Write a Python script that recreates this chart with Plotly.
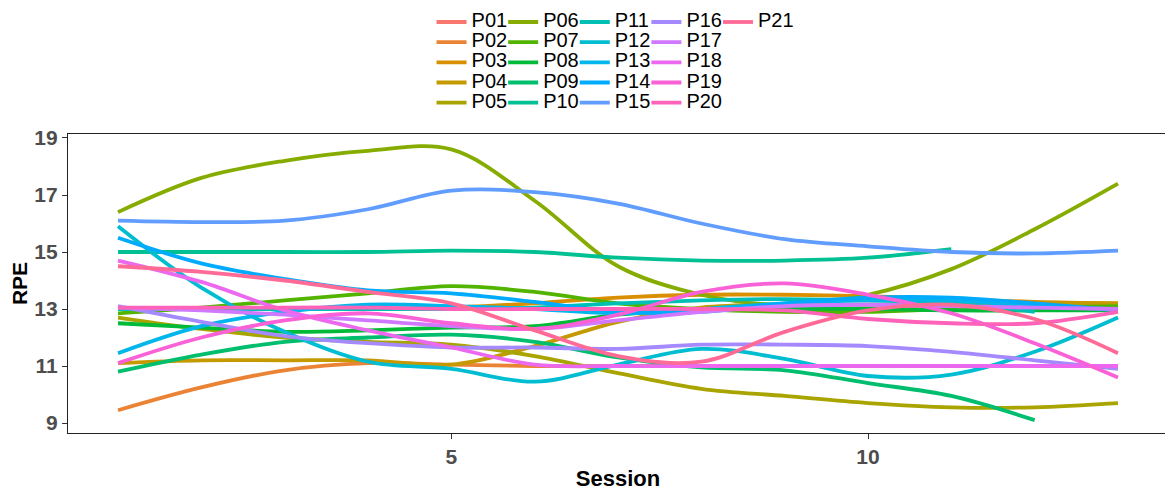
import math
import plotly.graph_objects as go

sessions = list(range(1, 14))
participants = ["P%02d" % i for i in range(1, 22)]

p01 = [13.0, 13.0, 13.0, 13.0, 13.0, 13.0, 13.0, 13.0, 13.0, 13.0, 13.0, 13.0, 13.0]
p02 = [9.45, 10.25, 10.85, 11.1, 11.05, 11.0, 11.0, 11.0, 11.0, 11.0, 11.0, 11.0, 11.0]
p03 = [13.0, 13.0, 13.0, 13.0, 13.05, 13.2, 13.4, 13.5, 13.5, 13.45, 13.35, 13.25, 13.2]
p04 = [11.1, 11.2, 11.2, 11.2, 11.05, 11.7, 12.55, 13.05, 13.15, 13.15, 13.15, 13.2, 13.2]
p05 = [12.7, 12.3, 12.0, 11.85, 11.75, 11.35, 10.75, 10.2, 9.95, 9.7, 9.55, 9.55, 9.7]
p06 = [16.4, 17.6, 18.2, 18.55, 18.6, 16.8, 14.5, 13.5, 13.15, 13.5, 14.4, 15.8, 17.4]
p07 = [12.85, 13.05, 13.3, 13.55, 13.8, 13.6, 13.2, 13.0, 12.9, 12.9, 13.0, 13.05, 13.1]
p08 = [12.5, 12.35, 12.2, 12.25, 12.35, 12.4, 12.8, 13.0, 13.0, 13.0, 12.95, 12.95, 12.95]
p09 = [10.8, 11.4, 11.85, 12.0, 12.1, 11.85, 11.3, 10.95, 10.85, 10.4, 9.95, 9.1]
p10 = [15.0, 15.0, 15.0, 15.0, 15.05, 15.0, 14.8, 14.7, 14.7, 14.8, 15.1]
p11 = [13.0, 13.0, 13.0, 13.0, 13.0, 13.05, 13.2, 13.3, 13.35, 13.3, 13.2, 12.9]
p12 = [15.9, 13.75, 12.2, 11.15, 10.9, 10.45, 11.05, 11.6, 11.25, 10.65, 10.7, 11.5, 12.7]
p13 = [11.45, 12.4, 12.9, 13.15, 13.1, 13.0, 12.85, 13.0, 13.2, 13.3, 13.3, 13.1, 13.0]
p14 = [15.5, 14.6, 14.05, 13.65, 13.55, 13.25, 12.9, 12.9, 13.2, 13.4, 13.4, 13.2, 12.95]
p15 = [16.1, 16.05, 16.1, 16.5, 17.15, 17.1, 16.7, 16.0, 15.45, 15.2, 15.0, 14.95, 15.05]
p16 = [13.1, 12.55, 12.05, 11.8, 11.65, 11.65, 11.6, 11.75, 11.75, 11.7, 11.5, 11.2, 10.9]
p17 = [13.05, 12.95, 12.8, 12.6, 12.4, 12.3, 12.6, 12.9, 13.1, 13.15, 13.1, 13.05, 13.0]
p18 = [14.7, 13.95, 12.95, 12.25, 11.65, 11.05, 11.0, 11.0, 11.0, 11.0, 11.0, 11.0, 11.0]
p19 = [11.1, 12.0, 12.6, 12.85, 12.5, 12.3, 12.8, 13.6, 13.9, 13.5, 12.85, 11.8, 10.6]
p20 = [13.05, 13.05, 13.05, 13.05, 13.0, 13.0, 13.0, 13.0, 12.95, 12.65, 12.5, 12.5, 12.9]
p21 = [14.5, 14.3, 14.0, 13.6, 13.2, 12.25, 11.35, 11.15, 12.2, 12.95, 13.15, 12.65, 11.45]

series = [p01, p02, p03, p04, p05, p06, p07, p08, p09, p10, p11,
          p12, p13, p14, p15, p16, p17, p18, p19, p20, p21]

y_ticks = [9, 11, 13, 15, 17, 19]
x_ticks = [5, 10]


def hcl(h, c=100.0, l=65.0):
    Xn, Yn, Zn = 95.047, 100.0, 108.883
    hr = math.radians(h)
    U = c * math.cos(hr)
    V = c * math.sin(hr)
    Y = Yn * ((l + 16) / 116) ** 3
    den = Xn + 15 * Yn + 3 * Zn
    un = 4 * Xn / den
    vn = 9 * Yn / den
    u = U / (13 * l) + un
    v = V / (13 * l) + vn
    X = 9.0 * Y * u / (4 * v)
    Z = -X / 3 - 5 * Y + 3 * Y / v
    X, Y, Z = X / 100, Y / 100, Z / 100
    r = 3.240479 * X - 1.537150 * Y - 0.498535 * Z
    g = -0.969256 * X + 1.875992 * Y + 0.041556 * Z
    b = 0.055648 * X - 0.204043 * Y + 1.057311 * Z

    def gam(t):
        t = 12.92 * t if t <= 0.0031308 else 1.055 * t ** (1 / 2.4) - 0.055
        return int(round(min(max(t, 0), 1) * 255))
    return "#%02X%02X%02X" % (gam(r), gam(g), gam(b))


n = len(participants)
colors = [hcl(15 + 360 * i / n) for i in range(n)]

FONT = "Arial, 'Liberation Sans', sans-serif"
fig = go.Figure()
legend_names = ["legend", "legend2", "legend3", "legend4", "legend5"]
for i, (name, vals) in enumerate(zip(participants, series)):
    fig.add_trace(go.Scatter(
        x=sessions[:len(vals)], y=vals, mode="lines",
        name="<span style='font-size:20px'>%s</span>" % name,
        line=dict(color=colors[i], width=3.8, shape="spline", smoothing=1.0),
        legend=legend_names[i // 5],
        hovertemplate=name + ": %{y}<extra></extra>",
    ))

leg_common = dict(
    orientation="v", yanchor="top", y=1.425, xanchor="left",
    font=dict(family=FONT, size=13.2, color="black"),
    bgcolor="rgba(0,0,0,0)", tracegroupgap=0, itemwidth=30,
)
x0 = 0.3305
dx = 0.0651
layout_legends = {}
for k, ln in enumerate(legend_names):
    layout_legends[ln] = dict(leg_common, x=x0 + k * dx)

# the page adds an 8px body margin, so the figure is 8px smaller than the window
fig.update_layout(
    width=1165, height=483,
    margin=dict(l=60, r=5, t=126, b=58, autoexpand=False),
    paper_bgcolor="white", plot_bgcolor="white",
    showlegend=True,
    **layout_legends,
    xaxis=dict(
        range=[0.4, 13.6], tickvals=x_ticks, ticks="outside", ticklen=5,
        tickcolor="#333333", showgrid=False, zeroline=False,
        showline=True, mirror=True, linecolor="#222222", linewidth=1.2,
        tickfont=dict(family=FONT, size=21, color="#4D4D4D", weight="bold"),
        title=dict(text="Session", font=dict(family=FONT, size=22, color="black", weight="bold"), standoff=5),
    ),
    yaxis=dict(
        range=[8.65, 19.14], tickvals=y_ticks, ticks="outside", ticklen=5,
        tickcolor="#333333", showgrid=False, zeroline=False,
        showline=True, mirror=True, linecolor="#222222", linewidth=1.2,
        tickfont=dict(family=FONT, size=21, color="#4D4D4D", weight="bold"),
        title=dict(text="RPE", font=dict(family=FONT, size=21, color="black", weight="bold"), standoff=10),
    ),
)

fig.write_html("out.html")
